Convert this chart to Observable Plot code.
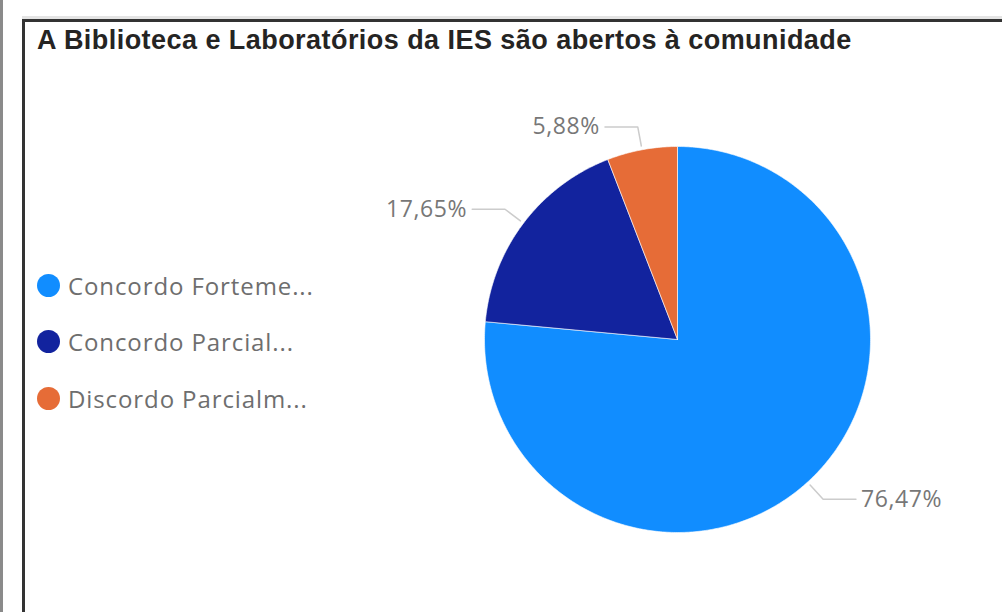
<!DOCTYPE html>
<html>
<head>
<meta charset="utf-8">
<script src="https://cdn.jsdelivr.net/npm/d3@7"></script>
<script src="https://cdn.jsdelivr.net/npm/@observablehq/plot@0.6"></script>
<style>
  html, body { margin: 0; padding: 0; background: #fff; }
  #wrap { position: relative; width: 1002px; height: 612px; overflow: hidden; background: #fff; }
  #title { position: absolute; left: 37px; top: 27px; line-height: 27px; font-family: "Liberation Sans", Arial, sans-serif; font-weight: bold; font-size: 27px; color: #252423; white-space: nowrap; letter-spacing: 0.45px; }
  #chart { position: absolute; left: 0; top: 70px; }
  #chart svg { background: transparent; }
  .bar { position: absolute; z-index: 5; }
  #legend { position: absolute; left: 37px; top: 0; }
  .item { position: absolute; left: 0; display: flex; align-items: center; white-space: nowrap; font-family: "Open Sans", sans-serif; font-size: 24px; letter-spacing: 0.9px; color: #6e6e6e; height: 30px; }
  .sw { width: 23px; height: 23px; border-radius: 50%; margin-right: 8px; flex: none; }
</style>
</head>
<body>
<div id="wrap">
  <div class="bar" style="left:0;top:0;width:3px;height:612px;background:#8a8a8a"></div>
  <div class="bar" style="left:22px;top:16px;width:980px;height:3px;background:#e4e4e4"></div>
  <div class="bar" style="left:22px;top:19px;width:980px;height:3px;background:#333"></div>
  <div class="bar" style="left:22px;top:19px;width:3px;height:593px;background:#333"></div>
  <div id="title">A Biblioteca e Laboratórios da IES são abertos à comunidade</div>
  <div id="chart"></div>
  <div id="legend"></div>
</div>
<script>
const categories = ["Concordo Fortemente", "Concordo Parcialmente", "Discordo Parcialmente"];
const legendLabels = ["Concordo Forteme...", "Concordo Parcial...", "Discordo Parcialm..."];
const values = [76.47, 17.65, 5.88];
const labelTexts = ["76,47%", "17,65%", "5,88%"];
const colors = ["#118DFF", "#12239E", "#E66C37"];

// layout (pixels)
const W = 1002, H = 542, R = 193, CX = 677, CY = 269;

const arcs = d3.pie().sort(null).value(d => d)(values);

const slicePts = [];
arcs.forEach((a, i) => {
  slicePts.push({key: categories[i], x: 0, y: 0});
  const n = Math.max(4, Math.ceil((a.endAngle - a.startAngle) * 90));
  for (let k = 0; k <= n; k++) {
    const t = a.startAngle + (a.endAngle - a.startAngle) * k / n;
    slicePts.push({key: categories[i], x: Math.sin(t), y: Math.cos(t)});
  }
  slicePts.push({key: categories[i], x: 0, y: 0});
});

const leaders = [];
const labels = [];
arcs.forEach((a, i) => {
  const m = (a.startAngle + a.endAngle) / 2;
  const sx = Math.sin(m), sy = Math.cos(m);
  const side = sx < 0 ? -1 : 1;
  const p0 = {x: sx * 1.02, y: sy * 1.02};
  const p1 = {x: sx * 1.12, y: sy * 1.12};
  const p2 = {x: p1.x + side * 0.17, y: p1.y};
  [p0, p1, p2].forEach(p => leaders.push({key: categories[i], ...p}));
  labels.push({x: p2.x, y: p2.y, text: labelTexts[i], anchor: side < 0 ? "end" : "start"});
});

const labelStyle = {fill: "#777", fontSize: 23, fontFamily: "Open Sans", letterSpacing: "0.6px"};

const chart = Plot.plot({
  width: W,
  height: H,
  margin: 0,
  style: {background: "transparent", overflow: "visible"},
  x: {domain: [-CX / R, (W - CX) / R], range: [0, W], axis: null},
  y: {domain: [-(H - CY) / R, CY / R], range: [H, 0], axis: null},
  color: {domain: categories, range: colors},
  marks: [
    Plot.line(slicePts, {x: "x", y: "y", z: "key", fill: "key", stroke: "#ffffff", strokeWidth: 1, strokeOpacity: 0.6, curve: "linear"}),
    Plot.line(leaders, {x: "x", y: "y", z: "key", stroke: "#cccccc", strokeWidth: 1.5}),
    Plot.text(labels.filter(d => d.anchor === "end"), {x: "x", y: "y", text: "text", textAnchor: "end", dx: -5, ...labelStyle}),
    Plot.text(labels.filter(d => d.anchor === "start"), {x: "x", y: "y", text: "text", textAnchor: "start", dx: 5, ...labelStyle})
  ]
});
chart.querySelectorAll("text").forEach(t => t.style.letterSpacing = "0.6px");
document.getElementById("chart").appendChild(chart);

const legend = document.getElementById("legend");
const legendY = [286, 342, 399];
legendLabels.forEach((lab, i) => {
  const it = document.createElement("div");
  it.className = "item";
  it.style.top = (legendY[i] - 16) + "px";
  it.innerHTML = `<span class="sw" style="background:${colors[i]}"></span><span>${lab}</span>`;
  legend.appendChild(it);
});
</script>
</body>
</html>
